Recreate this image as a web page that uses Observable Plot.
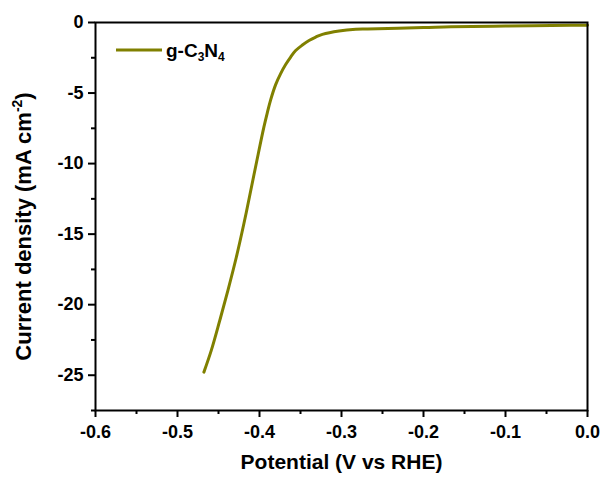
<!DOCTYPE html>
<html><head><meta charset="utf-8">
<script src="https://cdn.jsdelivr.net/npm/d3@7"></script>
<script src="https://cdn.jsdelivr.net/npm/@observablehq/plot@0.6"></script>
<style>
body{margin:0;background:#fff;}
#chart{width:601px;height:481px;}
</style></head><body><div id="chart"></div>
<script>
const potential = [-0.4678, -0.4588, -0.4486, -0.4385, -0.4282, -0.4190, -0.4129, -0.4035, -0.3946, -0.3905, -0.3864, -0.3803, -0.3742, -0.3681, -0.3620, -0.3559, -0.3477, -0.3396, -0.3314, -0.3233, -0.3030, -0.2826, -0.268, -0.20, -0.1665, -0.10, -0.02, 0.0];
const current   = [-24.78, -23.24, -21.15, -18.98, -16.62, -14.25, -12.55, -9.87, -7.40, -6.40, -5.48, -4.40, -3.62, -2.98, -2.45, -1.99, -1.60, -1.28, -1.03, -0.84, -0.60, -0.48, -0.46, -0.36, -0.30, -0.25, -0.20, -0.19];
const xMajorTicks = [-0.6, -0.5, -0.4, -0.3, -0.2, -0.1, 0.0];
const xMinorTicks = [-0.55, -0.45, -0.35, -0.25, -0.15, -0.05];
const yMajorTicks = [0, -5, -10, -15, -20, -25];
const yMinorTicks = [-2.5, -7.5, -12.5, -17.5, -22.5, -27.5];
const seriesName = "g-C3N4";
const xLabel = "Potential (V vs RHE)";
const yLabel = "Current density (mA cm-2)";
const lineColor = "#808000";

const data = potential.map((p, i) => ({p, c: current[i]}));
const font = "'Liberation Sans', Arial, sans-serif";

const plot = Plot.plot({
  width: 601, height: 481,
  marginLeft: 95, marginRight: 14, marginTop: 22, marginBottom: 71,
  style: {fontFamily: font, fontWeight: "bold", fontSize: "18px", color: "#000", background: "#fff", overflow: "visible"},
  x: {domain: [-0.6, 0]},
  y: {domain: [-27.5, 0]},
  marks: [
    Plot.line(data, {x: "p", y: "c", stroke: lineColor, strokeWidth: 3, curve: "catmull-rom"}),
    Plot.frame({stroke: "#000", strokeWidth: 2}),
    Plot.axisX({ticks: xMajorTicks, tickFormat: d => d.toFixed(1), tickSize: 7, tickPadding: 8, strokeWidth: 2, label: null, fontSize: 18}),
    Plot.axisX({ticks: xMinorTicks, tickFormat: () => "", tickSize: 4, strokeWidth: 2, label: null}),
    Plot.axisY({ticks: yMajorTicks, tickFormat: d => String(d), tickSize: 7, tickPadding: 5, strokeWidth: 2, label: null, fontSize: 18}),
    Plot.axisY({ticks: yMinorTicks, tickFormat: () => "", tickSize: 4, strokeWidth: 2, label: null}),
    Plot.text([xLabel], {frameAnchor: "bottom", dy: 58, fontSize: 21, fontWeight: "bold"}),
    Plot.text([yLabel], {frameAnchor: "left", textAnchor: "middle", dx: -72, dy: 10, rotate: -90, fontSize: 22, fontWeight: "bold"})
  ]
});
document.getElementById("chart").appendChild(plot);

const svg = d3.select(plot);
// superscript in y label
svg.selectAll("text").each(function() {
  if (this.textContent === yLabel) {
    const t = d3.select(this);
    t.text(null);
    t.append("tspan").text("Current density (mA cm");
    t.append("tspan").attr("font-size", 14).attr("dy", -9).text("-2");
    t.append("tspan").attr("dy", 9).text(")");
  }
});
// legend
const lg = svg.append("g").attr("font-family", font).attr("font-weight", "bold").attr("text-anchor", "start");
lg.append("line").attr("x1", 116).attr("x2", 162).attr("y1", 50).attr("y2", 50)
  .attr("stroke", lineColor).attr("stroke-width", 3);
const lt = lg.append("text").attr("x", 166).attr("y", 57).attr("font-size", 19).attr("fill", "#000");
lt.append("tspan").text("g-C");
lt.append("tspan").attr("font-size", 12).attr("dy", 4).text("3");
lt.append("tspan").attr("dy", -4).text("N");
lt.append("tspan").attr("font-size", 12).attr("dy", 4).text("4");
</script>
</body></html>
